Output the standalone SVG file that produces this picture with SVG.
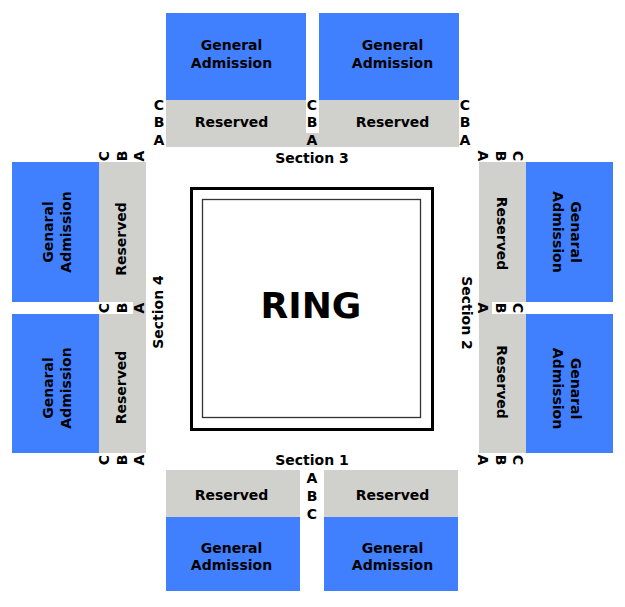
<svg xmlns="http://www.w3.org/2000/svg" width="625" height="607" viewBox="0 0 625 607">
<style>
.ga{fill:#4080FF}
.rs{fill:#D0D0CD}
text{font-family:"DejaVu Sans","Liberation Sans",sans-serif;font-weight:bold;font-size:14px;fill:#000;text-anchor:middle}
.ring{font-size:36px}
</style>
<rect width="625" height="607" fill="#fff"/>
<g id="ring">
<rect x="191.5" y="188.5" width="241" height="241" fill="#fff" stroke="#000" stroke-width="3"/>
<rect x="202.5" y="199.5" width="218" height="218" fill="none" stroke="#333" stroke-width="1.3"/>
<text class="ring" x="311" y="318">RING</text>
</g>
<g id="section3">
<rect class="rs" x="306" y="133" width="13" height="14"/>
<g id="s3-ga-left"><rect class="ga" x="166" y="13" width="140" height="87"/><text x="231.5" y="50">General</text><text x="231.5" y="68">Admission</text></g>
<g id="s3-res-left"><rect class="rs" x="166" y="100" width="140" height="47"/><text x="231.5" y="127">Reserved</text></g>
<g id="s3-ga-right"><rect class="ga" x="319" y="13" width="140" height="87"/><text x="392.5" y="50">General</text><text x="392.5" y="68">Admission</text></g>
<g id="s3-res-right"><rect class="rs" x="319" y="100" width="140" height="47"/><text x="392.5" y="127">Reserved</text></g>
<g id="s3-rows">
<text x="159" y="110">C</text><text x="159" y="127">B</text><text x="159" y="145">A</text>
<text x="312" y="110">C</text><text x="312" y="127">B</text><text x="312" y="145">A</text>
<text x="465" y="110">C</text><text x="465" y="127">B</text><text x="465" y="145">A</text>
</g>
<text x="312" y="163">Section 3</text>
</g>
<g id="section1">
<text x="312" y="465">Section 1</text>
<g id="s1-res-left"><rect class="rs" x="166" y="470" width="134" height="47"/><text x="231.5" y="500">Reserved</text></g>
<g id="s1-ga-left"><rect class="ga" x="166" y="517" width="134" height="74"/><text x="231.5" y="553">General</text><text x="231.5" y="570">Admission</text></g>
<g id="s1-res-right"><rect class="rs" x="324" y="470" width="134" height="47"/><text x="392.5" y="500">Reserved</text></g>
<g id="s1-ga-right"><rect class="ga" x="324" y="517" width="134" height="74"/><text x="392.5" y="553">General</text><text x="392.5" y="570">Admission</text></g>
<g id="s1-rows"><text x="312" y="483">A</text><text x="312" y="501">B</text><text x="312" y="519">C</text></g>
</g>
<g id="section4">
<rect class="rs" x="133" y="302" width="13" height="12"/>
<g id="s4-ga-top"><rect class="ga" x="12" y="162" width="87" height="140"/><text transform="translate(53,232) rotate(-90)">Genaral</text><text transform="translate(71,232) rotate(-90)">Admission</text></g>
<g id="s4-res-top"><rect class="rs" x="99" y="162" width="47" height="140"/><text transform="translate(126,239) rotate(-90)">Reserved</text></g>
<g id="s4-ga-bottom"><rect class="ga" x="12" y="314" width="87" height="139"/><text transform="translate(53,388) rotate(-90)">Genaral</text><text transform="translate(71,388) rotate(-90)">Admission</text></g>
<g id="s4-res-bottom"><rect class="rs" x="99" y="314" width="47" height="139"/><text transform="translate(126,387.5) rotate(-90)">Reserved</text></g>
<g id="s4-rows">
<text transform="translate(109,156) rotate(-90)">C</text><text transform="translate(127,156) rotate(-90)">B</text><text transform="translate(144,156) rotate(-90)">A</text>
<text transform="translate(109,308) rotate(-90)">C</text><text transform="translate(127,308) rotate(-90)">B</text><text transform="translate(144,308) rotate(-90)">A</text>
<text transform="translate(109,460) rotate(-90)">C</text><text transform="translate(127,460) rotate(-90)">B</text><text transform="translate(144,460) rotate(-90)">A</text>
</g>
<text transform="translate(163,312) rotate(-90)">Section 4</text>
</g>
<g id="section2">
<rect class="rs" x="479" y="302" width="13" height="12"/>
<g id="s2-res-top"><rect class="rs" x="479" y="162" width="47" height="140"/><text transform="translate(497,233.5) rotate(90)">Reserved</text></g>
<g id="s2-ga-top"><rect class="ga" x="526" y="162" width="87" height="140"/><text transform="translate(571,232) rotate(90)">Genaral</text><text transform="translate(553,232) rotate(90)">Admission</text></g>
<g id="s2-res-bottom"><rect class="rs" x="479" y="314" width="47" height="139"/><text transform="translate(497,382) rotate(90)">Reserved</text></g>
<g id="s2-ga-bottom"><rect class="ga" x="526" y="314" width="87" height="139"/><text transform="translate(571,388.5) rotate(90)">Genaral</text><text transform="translate(553,388.5) rotate(90)">Admission</text></g>
<g id="s2-rows">
<text transform="translate(478,156) rotate(90)">A</text><text transform="translate(496,156) rotate(90)">B</text><text transform="translate(513,156) rotate(90)">C</text>
<text transform="translate(478,308) rotate(90)">A</text><text transform="translate(496,308) rotate(90)">B</text><text transform="translate(513,308) rotate(90)">C</text>
<text transform="translate(478,460) rotate(90)">A</text><text transform="translate(496,460) rotate(90)">B</text><text transform="translate(513,460) rotate(90)">C</text>
</g>
<text transform="translate(462,313) rotate(90)">Section 2</text>
</g>
<g id="connectors"/>
</svg>
